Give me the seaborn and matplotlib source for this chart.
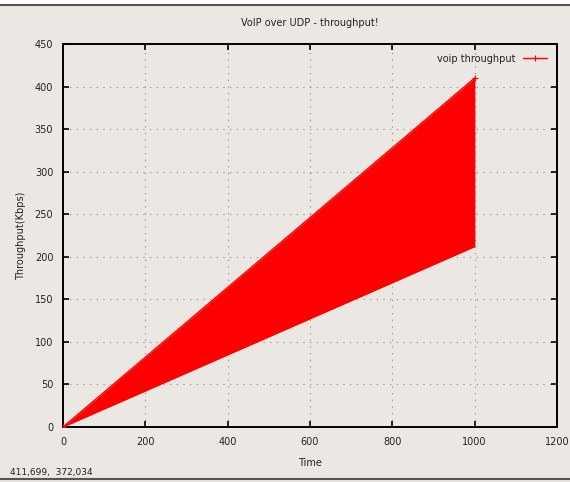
import matplotlib
matplotlib.use("Agg")
import matplotlib.pyplot as plt
import seaborn as sns
import pandas as pd

# Data
time = [0, 1000]
upper_kbps = [0, 410]
lower_kbps = [0, 212]
x_ticks = [0, 200, 400, 600, 800, 1000, 1200]
y_ticks = [0, 50, 100, 150, 200, 250, 300, 350, 400, 450]
title = "VoIP over UDP - throughput!"
series_label = "voip throughput"
status_text = "411,699,  372,034"

BG = "#ebe8e3"
sns.set_theme(style="ticks")
plt.rcParams['font.family'] = ['DejaVu Sans']

fig = plt.figure(figsize=(5.70, 4.82), dpi=100, facecolor=BG)
ax = fig.add_axes([63/570, 1-427/482, (557-63)/570, (427-44)/482])
ax.set_facecolor(BG)

df = pd.DataFrame({"time": time, "upper": upper_kbps, "lower": lower_kbps})
ax.fill_between(df["time"], df["lower"], df["upper"], color="red", lw=0, zorder=3)
sns.lineplot(data=df, x="time", y="upper", ax=ax, color="red", lw=1, marker="+",
             markersize=5, markeredgecolor="red", markeredgewidth=0.8,
             label=series_label, zorder=4)
sns.lineplot(data=df, x="time", y="lower", ax=ax, color="red", lw=1, zorder=4, legend=False)
edge = pd.DataFrame({"time": [time[-1], time[-1]], "v": [lower_kbps[-1], upper_kbps[-1]]})
sns.lineplot(data=edge, x="time", y="v", ax=ax, color="red", lw=1.5, zorder=4, legend=False)

ax.set_xlim(x_ticks[0], x_ticks[-1])
ax.set_ylim(y_ticks[0], y_ticks[-1])
ax.set_xticks(x_ticks)
ax.set_yticks(y_ticks)
ax.grid(True, color="#888888", linestyle=(0, (1, 5)), lw=0.8)
ax.tick_params(direction="in", top=True, right=True, length=4, width=1.2,
               labelsize=7, colors="black", pad=7)
for lbl in ax.get_xticklabels() + ax.get_yticklabels():
    lbl.set_color("#222222")
for s in ax.spines.values():
    s.set_color("black")
    s.set_linewidth(1.4)

ax.set_xlabel("Time", fontsize=7, color="#222222", labelpad=8)
ax.set_ylabel("Throughput(Kbps)", fontsize=7, color="#222222", labelpad=6)
ax.set_title(title, fontsize=7, color="#222222", pad=13)

leg = ax.legend(loc="upper right", frameon=False, fontsize=7, markerfirst=False,
                handlelength=2.5, borderaxespad=0.6)
for t in leg.get_texts():
    t.set_color("#222222")

# window chrome: top and bottom dark lines, status text
fig.patches.append(plt.Rectangle((0, 1-4/482), 1, 4/482, transform=fig.transFigure,
                                 color="white", zorder=0))
fig.add_artist(plt.Line2D([0, 1], [1-4.5/482, 1-4.5/482], transform=fig.transFigure,
                          color="#555555", lw=1.5))
fig.add_artist(plt.Line2D([0, 1], [1-479/482, 1-479/482], transform=fig.transFigure,
                          color="#555555", lw=1.5))
fig.text(10/570, 1-472/482, status_text, fontsize=6.5, color="#222222", va="center")

fig.savefig("out.png", dpi=100, facecolor=BG)
